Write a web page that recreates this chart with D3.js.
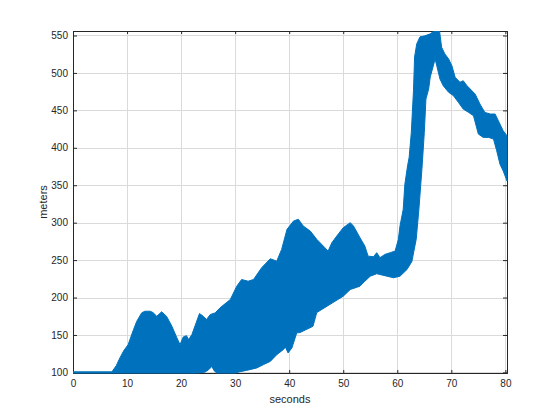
<!DOCTYPE html>
<html>
<head>
<meta charset="utf-8">
<script src="https://cdn.jsdelivr.net/npm/d3@7"></script>
<style>
  body { margin: 0; background: #fff; }
  svg { display: block; }
</style>
</head>
<body>
<script>
// envelope of the signal: [seconds, meters]
var upperEdge = [
  [0, 100.8], [7.2, 100.8], [8.0, 109], [8.7, 119.7], [9.4, 129.1], [10.2, 137.1],
  [11.2, 157.2], [11.8, 168.3], [12.7, 179.5], [13.3, 181.7], [14.3, 181.7], [14.8, 179.9],
  [15.5, 175.0], [16.4, 180.9], [17.3, 175.0], [18.3, 161.6], [19.2, 146.5], [19.8, 137.1],
  [20.4, 147.4], [21.0, 149.1], [21.4, 143.8], [22.0, 150.5], [22.8, 166.5], [23.4, 178.6],
  [24.1, 175.0], [24.7, 170.6], [25.4, 177.3], [26.3, 179.5], [27.2, 186.2], [29.1, 197.3],
  [30.3, 215.1], [31.2, 224.1], [32.4, 221.8], [33.4, 224.1], [34.9, 239.8], [36.5, 251.8],
  [37.7, 248.6], [38.6, 264.3], [39.6, 291.1], [40.8, 302.2], [41.7, 304.5], [42.6, 295.5],
  [43.9, 288.8], [45.1, 277.7], [46.6, 266.6], [47.2, 262.0], [47.9, 273.3], [48.8, 282.1],
  [50.0, 293.3], [51.3, 300.0], [51.9, 295.5], [53.1, 279.9], [54.0, 268.7], [54.6, 255.3],
  [55.6, 254.5], [56.2, 259.9], [56.8, 253.2], [57.7, 257.6], [58.7, 259.9], [59.6, 262.0],
  [60.2, 277.7], [60.5, 295.5], [61.1, 317.9], [61.4, 351.3], [61.9, 375.8], [62.2, 387.5],
  [62.6, 420.9], [62.8, 449.1], [63.0, 476.3], [63.2, 521.4], [63.6, 538.8], [64.2, 548.2],
  [65.1, 549.5], [66.1, 552.2], [66.6, 554.9], [67.3, 557], [67.8, 557], [68.2, 534.4],
  [68.8, 525.4], [69.5, 518.7], [70.1, 509.7], [70.7, 494.2], [71.6, 487.5], [72.2, 489.6],
  [72.9, 482.9], [73.5, 478.5], [74.4, 471.8], [75.3, 458.4], [76.2, 447.3], [77.2, 445.1],
  [78.1, 445.1], [78.7, 436.1], [79.6, 422.7], [80.3, 416.0]
];

var lowerEdge = [
  [0, 99.2], [22.9, 99.2], [24.4, 100.3], [25.1, 103.6], [25.7, 108.0], [26.1, 102.3],
  [26.6, 99.2], [30.0, 99.2], [30.9, 100.9], [32.1, 102.7], [34.0, 105.9], [35.2, 110.3],
  [36.5, 114.7], [37.7, 123.7], [38.9, 130.4], [39.3, 133.7], [39.8, 126.0], [40.5, 132.7],
  [41.4, 152.8], [42.0, 153.2], [44.4, 161.6], [45.1, 179.9], [47.0, 188.4], [48.1, 193.3],
  [50.0, 201.8], [51.3, 210.7], [53.1, 215.2], [54.0, 221.8], [55.0, 228.5], [56.2, 231.8],
  [58.1, 228.5], [59.3, 226.4], [60.5, 228.5], [61.8, 237.5], [62.7, 248.2], [63.5, 277.7],
  [64.0, 317.9], [64.6, 375.8], [65.0, 420.6], [65.3, 465.1], [65.8, 478.5], [66.1, 494.6],
  [66.8, 513.3], [67.0, 518.7], [67.9, 491.9], [68.5, 482.9], [69.5, 474.1], [70.4, 469.6],
  [71.3, 460.7], [72.2, 451.7], [73.2, 447.3], [74.1, 442.8], [75.0, 418.3], [75.9, 413.9],
  [76.9, 413.9], [77.8, 411.6], [78.4, 395.9], [79.0, 378.1], [79.6, 369.1], [80.3, 355.7]
];

var xTicks = [0, 10, 20, 30, 40, 50, 60, 70, 80];
var yTicks = [100, 150, 200, 250, 300, 350, 400, 450, 500, 550];
var xLimits = [0, 80.3];
var yLimits = [99.2, 556];

var margin = {top: 31, right: 53, bottom: 47, left: 73}; // matlab default axes position

var W = 560, H = 420;
var width = W - margin.left - margin.right;
var height = H - margin.top - margin.bottom;

var axisColor = "#262626";
var lineColor = "#0072BD";

var svg = d3.select("body").append("svg")
    .attr("width", W)
    .attr("height", H);

var g = svg.append("g")
    .attr("transform", "translate(" + margin.left + "," + margin.top + ")");

var x = d3.scaleLinear().domain(xLimits).range([0, width]);
var y = d3.scaleLinear().domain(yLimits).range([height, 0]);

// grid
g.append("g").selectAll("line")
  .data(xTicks)
  .enter().append("line")
  .attr("x1", function(d) { return Math.round(x(d)) + 0.5; })
  .attr("x2", function(d) { return Math.round(x(d)) + 0.5; })
  .attr("y1", 0)
  .attr("y2", height)
  .attr("stroke", "#dadada")
  .attr("stroke-width", 1);

g.append("g").selectAll("line")
  .data(yTicks)
  .enter().append("line")
  .attr("y1", function(d) { return Math.round(y(d)) + 0.5; })
  .attr("y2", function(d) { return Math.round(y(d)) + 0.5; })
  .attr("x1", 0)
  .attr("x2", width)
  .attr("stroke", "#dadada")
  .attr("stroke-width", 1);

// axes, ticks pointing inward on all four sides
var xAxis = g.append("g")
    .attr("transform", "translate(0," + height + ")")
    .call(d3.axisBottom(x).tickValues(xTicks).tickSize(-3).tickPadding(7).tickFormat(d3.format("d")));

var xAxisTop = g.append("g")
    .call(d3.axisTop(x).tickValues(xTicks).tickSize(-3).tickFormat(""));

var yAxis = g.append("g")
    .call(d3.axisLeft(y).tickValues(yTicks).tickSize(-4).tickPadding(5).tickFormat(d3.format("d")));

var yAxisRight = g.append("g")
    .attr("transform", "translate(" + width + ",0)")
    .call(d3.axisRight(y).tickValues(yTicks).tickSize(-4).tickFormat(""));

[xAxis, xAxisTop, yAxis, yAxisRight].forEach(function(a) {
  a.selectAll("path, line").attr("stroke", axisColor);
  a.selectAll("text")
    .attr("fill", axisColor)
    .style("font-family", "'Liberation Sans', Arial, sans-serif")
    .style("font-size", "10px");
});

// the signal band, clipped to the axes box
svg.append("defs").append("clipPath")
  .attr("id", "plotClip")
  .append("rect")
  .attr("x", 0)
  .attr("y", 0)
  .attr("width", width + 1)
  .attr("height", height + 1);

var edge = d3.line()
    .x(function(d) { return x(d[0]); })
    .y(function(d) { return y(d[1]); });

var outline = upperEdge.concat(lowerEdge.slice().reverse());

g.append("path")
  .attr("clip-path", "url(#plotClip)")
  .attr("d", edge(outline) + "Z")
  .attr("fill", lineColor)
  .attr("stroke", lineColor)
  .attr("stroke-width", 1)
  .attr("stroke-linejoin", "round");

// labels
g.append("text")
  .attr("x", width / 2)
  .attr("y", height + 30)
  .attr("text-anchor", "middle")
  .attr("fill", axisColor)
  .style("font-family", "'Liberation Sans', Arial, sans-serif")
  .style("font-size", "11px")
  .text("seconds");

g.append("text")
  .attr("transform", "translate(-26," + (height / 2) + ") rotate(-90)")
  .attr("text-anchor", "middle")
  .attr("fill", axisColor)
  .style("font-family", "'Liberation Sans', Arial, sans-serif")
  .style("font-size", "11px")
  .text("meters");
</script>
</body>
</html>
